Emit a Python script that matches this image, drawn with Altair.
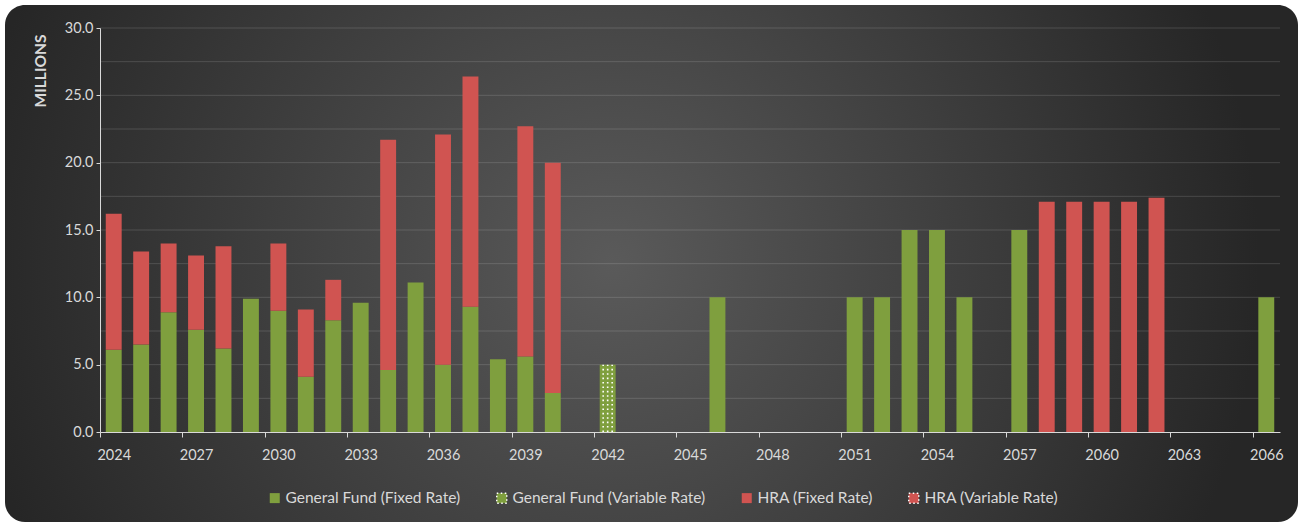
import altair as alt
import pandas as pd

years = [2024, 2025, 2026, 2027, 2028, 2029, 2030, 2031, 2032, 2033, 2034, 2035,
         2036, 2037, 2038, 2039, 2040, 2041, 2042, 2043, 2044, 2045, 2046, 2047,
         2048, 2049, 2050, 2051, 2052, 2053, 2054, 2055, 2056, 2057, 2058, 2059,
         2060, 2061, 2062, 2063, 2064, 2065, 2066]

series_names = ["General Fund (Fixed Rate)", "General Fund (Variable Rate)",
                "HRA (Fixed Rate)", "HRA (Variable Rate)"]
series_colors = ["#7f9f3e", "#7f9f3e", "#d05451", "#d05451"]
series_dot_colors = ["transparent", "#ffffff", "transparent", "#ffffff"]

gf_fixed = [6.1, 6.5, 8.9, 7.6, 6.2, 9.9, 9.0, 4.1, 8.3, 9.6, 4.6, 11.1, 5.0, 9.3, 5.4, 5.6, 2.9,
            0, 0, 0, 0, 0, 10.0, 0, 0, 0, 0, 10.0, 10.0, 15.0, 15.0, 10.0, 0, 15.0,
            0, 0, 0, 0, 0, 0, 0, 0, 10.0]
gf_var = [0, 0, 0, 0, 0, 0, 0, 0, 0, 0, 0, 0, 0, 0, 0, 0, 0,
          0, 5.0, 0, 0, 0, 0, 0, 0, 0, 0, 0, 0, 0, 0, 0, 0, 0,
          0, 0, 0, 0, 0, 0, 0, 0, 0]
hra_fixed = [10.1, 6.9, 5.1, 5.5, 7.6, 0, 5.0, 5.0, 3.0, 0, 17.1, 0, 17.1, 17.1, 0, 17.1, 17.1,
             0, 0, 0, 0, 0, 0, 0, 0, 0, 0, 0, 0, 0, 0, 0, 0, 0,
             17.1, 17.1, 17.1, 17.1, 17.4, 0, 0, 0, 0]
hra_var = [0] * len(years)

y_ticks = [0, 2.5, 5, 7.5, 10, 12.5, 15, 17.5, 20, 22.5, 25, 27.5, 30]
x_label_years = [str(y) for y in years[::3]]

all_series = [gf_fixed, gf_var, hra_fixed, hra_var]
rows = []
for i, yr in enumerate(years):
    lo = 0.0
    for k, name in enumerate(series_names):
        v = all_series[k][i]
        if v > 0:
            rows.append({"year": str(yr), "series": name, "lo": lo, "hi": lo + v,
                         "variable": "Variable" in name})
        lo += v
df = pd.DataFrame(rows)
var_df = df[df["variable"]]
grid_df = pd.DataFrame({"v": y_ticks[1:]})
bg_df = pd.DataFrame({"a": [0]})

FONT = "Lato"
TXT = "#d9d9d9"
W, H = 1180, 404

x_scale = alt.Scale(domain=[str(y) for y in years], paddingInner=0.42, paddingOuter=0.21)
y_scale = alt.Scale(domain=[0, 30], nice=False, zero=True)

legend = alt.Legend(orient="none", legendX=167, legendY=462,
                    direction="horizontal", title=None,
                    labelFont=FONT, labelFontSize=15.5, labelColor=TXT, labelLimit=400,
                    symbolType="square", symbolSize=100,
                    symbolStrokeWidth=1.5, symbolDash=[1.5, 2.5],
                    labelOffset=3, columnPadding=32)

bg = alt.Chart(bg_df).mark_rect(
    cornerRadius=20,
    fill={"gradient": "radial", "x1": 0.47, "y1": 0.5, "r1": 0,
          "x2": 0.47, "y2": 0.5, "r2": 0.5,
          "stops": [{"offset": 0, "color": "#5a5a5a"},
                    {"offset": 1, "color": "#262626"}]},
).encode(
    x=alt.value(-95), x2=alt.value(W + 18), y=alt.value(-23), y2=alt.value(H + 90)
)

grid = alt.Chart(grid_df).mark_rule(color="#ffffff", opacity=0.14, strokeWidth=1).encode(
    y=alt.Y("v:Q", scale=y_scale)
)

bars = alt.Chart(df).mark_bar().encode(
    x=alt.X("year:O", scale=x_scale, title=None,
            axis=alt.Axis(values=x_label_years, labelAngle=0, bandPosition=0,
                          tickOffset=-5.76, labelOffset=5.76, tickSize=5,
                          labelPadding=11, labelFont=FONT, labelFontSize=14.5,
                          labelColor=TXT, domainColor=TXT, tickColor=TXT,
                          grid=False, zindex=1)),
    y=alt.Y("hi:Q", scale=y_scale,
            axis=alt.Axis(values=y_ticks, grid=False, tickSize=4, labelPadding=3,
                          labelExpr="datum.value % 5 == 0 ? format(datum.value, '.1f') : ''",
                          labelFont=FONT, labelFontSize=14.5, labelColor=TXT,
                          domainColor=TXT, tickColor=TXT, zindex=1,
                          title="MILLIONS", titleFont=FONT, titleFontSize=15.5,
                          titleFontWeight="bold", titleColor=TXT, titleAngle=-90,
                          titleX=-60, titleY=6, titleAlign="right",
                          titleBaseline="middle")),
    y2="lo:Q",
    color=alt.Color("series:N",
                    scale=alt.Scale(domain=series_names, range=series_colors),
                    legend=legend),
)

dots = [
    alt.Chart(var_df).mark_rule(strokeWidth=1.6,
                                strokeDash=[1.6, 2.8], xOffset=off).encode(
        x=alt.X("year:O", scale=x_scale),
        y=alt.Y("lo:Q", scale=y_scale),
        y2="hi:Q",
        stroke=alt.Stroke("series:N",
                          scale=alt.Scale(domain=series_names, range=series_dot_colors),
                          legend=legend),
    )
    for off in (-4.5, 0, 4.5)
]

chart = alt.layer(bg, grid, bars, *dots).properties(
    width=W, height=H, padding={"left": 5, "top": 5, "right": 5, "bottom": 5},
    background="#ffffff",
).configure_view(stroke=None)

chart.save("out.html", embed_options={"renderer": "svg", "actions": False})
